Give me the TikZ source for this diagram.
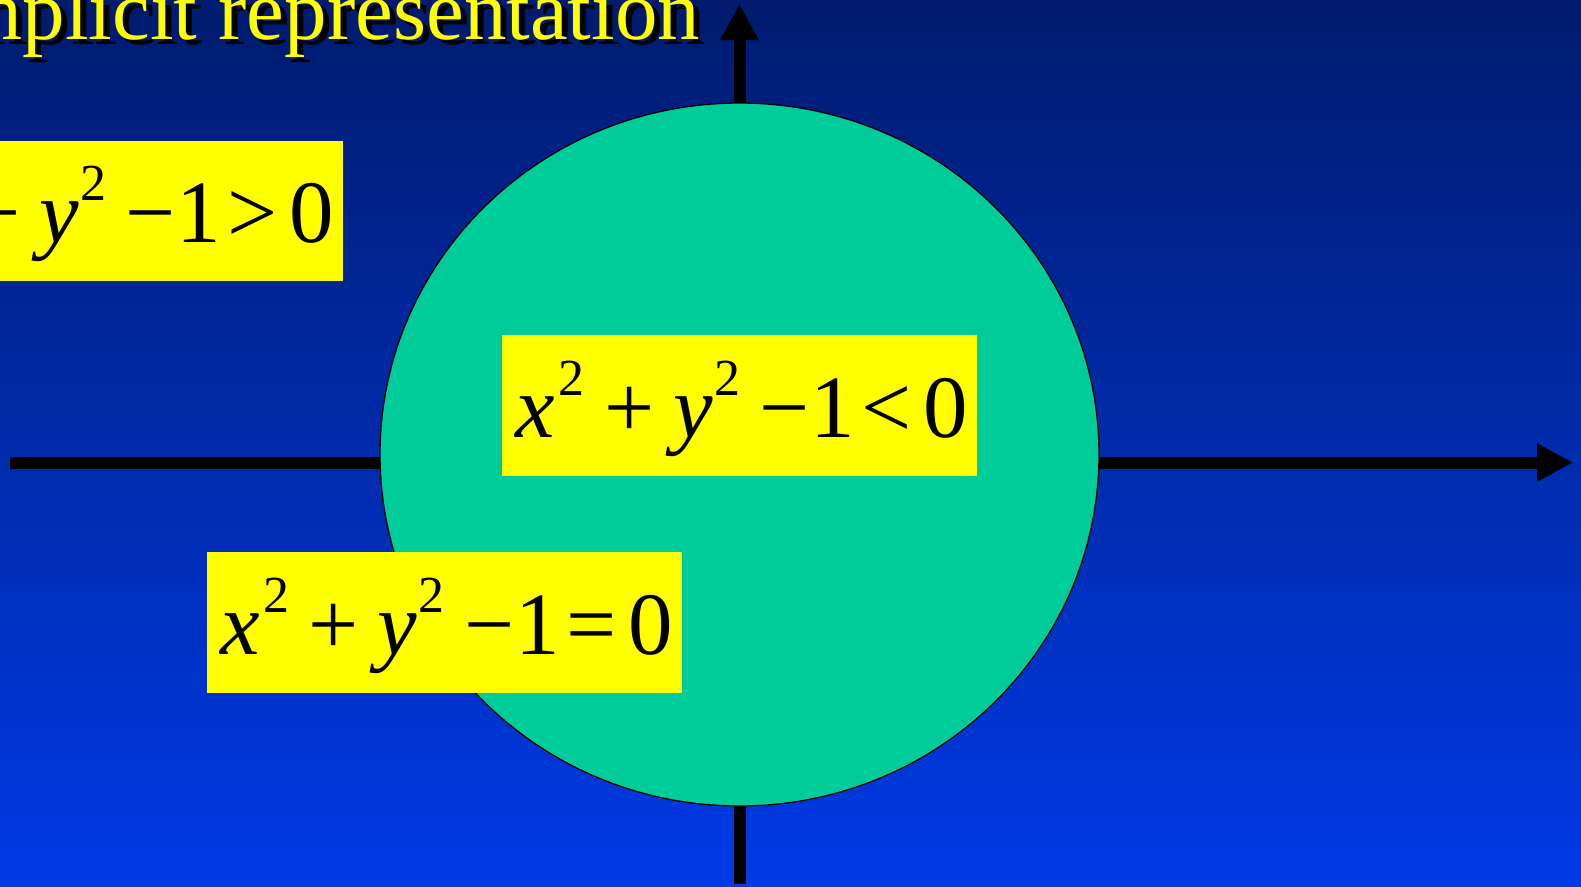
\documentclass[tikz,border=0pt]{standalone}
\usepackage{fontspec}
\setmainfont{Liberation Serif}
\usetikzlibrary{arrows.meta}
\definecolor{bgtop}{RGB}{0,27,110}
\definecolor{bgmid}{RGB}{0,45,188}
\definecolor{bgbot}{RGB}{0,58,230}
\definecolor{disk}{RGB}{0,204,153}
\definecolor{boxyellow}{RGB}{255,255,0}
\newcommand{\eqsize}{\fontsize{89}{89}\selectfont}
\newcommand{\suptwo}{\raisebox{42pt}{\fontsize{52}{52}\selectfont 2}}
\newcommand{\impleq}[1]{\eqsize\hspace{5pt}\textit{x}\kern3.5pt\suptwo\hspace{19.5pt}+\hspace{19pt}\textit{y}\kern1.5pt\suptwo\hspace{19.5pt}−\hspace{1pt}1\hspace{6pt}#1\hspace{12.3pt}0}
\tikzset{
  eqbox/.style={fill=boxyellow, draw=none, inner sep=0pt, minimum width=475pt, minimum height=140.5pt, text height=63pt, text depth=0pt, text=black},
  axis/.style={line width=12pt, draw=black, -{Triangle[length=36pt,width=36pt]}},
  titletext/.style={anchor=base west, inner sep=0pt, font=\fontsize{85}{85}\selectfont}
}
\begin{document}
\begin{tikzpicture}[x=1pt,y=-1pt]
\useasboundingbox (0,0) rectangle (1581,886);
\clip (0,0) rectangle (1581,886);
\shade[top color=bgtop, middle color=bgmid, bottom color=bgbot] (0,0) rectangle (1581,886);
% axes
\coordinate (xl) at (10,462.5);
\coordinate (xr) at (1573,462.5);
\coordinate (yb) at (739.5,884);
\coordinate (yt) at (739.5,4);
\draw[axis] (xl) -- (xr);
\draw[axis] (yb) -- (yt);
% disk
\draw[fill=disk, draw=black, line width=1.3pt] (739.5,454.5) ellipse [x radius=359.5, y radius=351.5];
% equation boxes
\node[eqbox] (outside) at (105.5,211.2) {\impleq{>}};
\node[eqbox] (inside) at (739.5,405.5) {\impleq{<}};
\node[eqbox] (boundary) at (444.2,622.5) {\impleq{=}};
% title
\node[titletext, text=black] (titleshadow) at (-66,44) {Implicit representation};
\node[titletext, text=boxyellow] (title) at (-72,39) {Implicit representation};
\end{tikzpicture}
\end{document}
